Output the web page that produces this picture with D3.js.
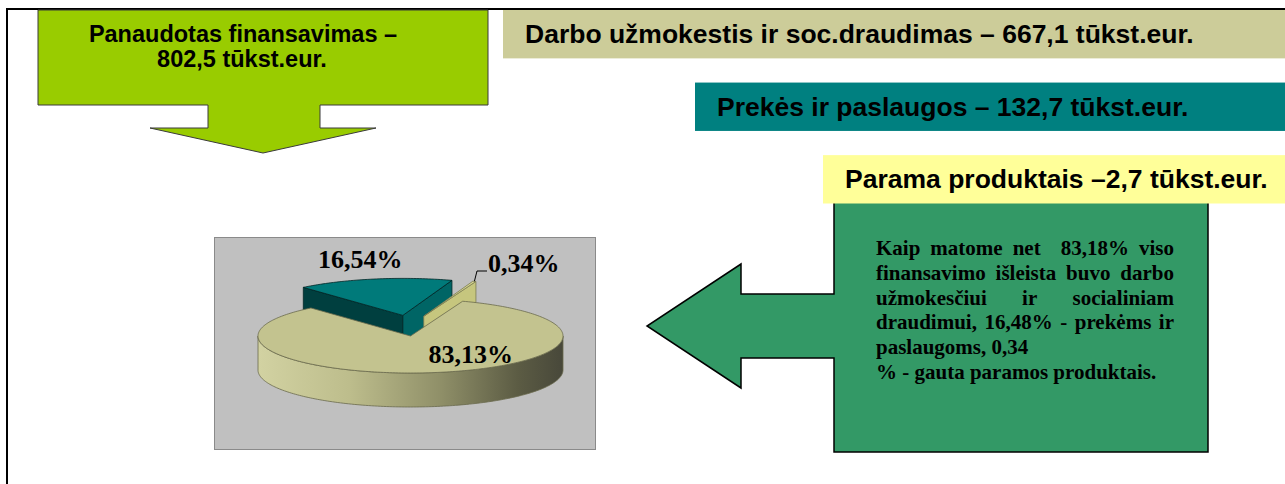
<!DOCTYPE html>
<meta charset="utf-8">
<style>
body { margin: 0; background: #fff; }
svg { display: block; }
.hdr { font-family: "Liberation Sans", Arial, sans-serif; font-weight: bold; fill: #000; }
.ser { font-family: "Liberation Serif", "Times New Roman", serif; font-weight: bold; fill: #000; }
</style>
<body>
<svg width="1285" height="484"></svg>
<script src="https://d3js.org/d3.v7.min.js"></script>
<script>

// data
var categories = ["Darbo užmokestis ir soc.draudimas", "Prekės ir paslaugos", "Parama produktais"];
var amounts = [667.1, 132.7, 2.7];          // tūkst.eur.
var separators = [" – ", " – ", " –"];
var shares = [83.13, 16.54, 0.34];          // % of total
var total = 802.5;
var totalTitle = "Panaudotas finansavimas –";
var unit = "tūkst.eur.";
var noteLines = [
  "Kaip matome net  83,18% viso",
  "finansavimo išleista buvo darbo",
  "užmokesčiui ir socialiniam",
  "draudimui, 16,48% - prekėms ir",
  "paslaugoms, 0,34",
  "% - gauta paramos produktais."
];
var noteJustified = [true, true, true, true, false, false];

var boxFill = ["#cccc99", "#008080", "#ffff99"];
var topFill = ["#c3c38f", "#007a7a", "#d8d890"];
var startFaceFill = ["#8f8f66", "#003f3f", "#b5b570"];
var endFaceFill = ["#8f8f66", "#006565", "#c6c67e"];
var edge = ["#6a6a4c", "#002626", "#7a7a50"];

var svg = d3.select("svg");
var loc = d3.formatLocale({decimal: ",", thousands: " ", grouping: [3], currency: ["", ""]});
var f1 = loc.format(".1f"), f2 = loc.format(".2f");

// outer frame
svg.append("path")
    .attr("d", "M7,484V9H1285")
    .attr("fill", "none")
    .attr("stroke", "#000")
    .attr("stroke-width", 2);

// green "total" arrow pointing down
var ga = d3.path();
ga.moveTo(38, 10); ga.lineTo(488, 10); ga.lineTo(488, 105); ga.lineTo(320, 105);
ga.lineTo(320, 128); ga.lineTo(376, 128); ga.lineTo(263, 153); ga.lineTo(150, 128);
ga.lineTo(208, 128); ga.lineTo(208, 105); ga.lineTo(38, 105); ga.closePath();
svg.append("path").attr("d", ga.toString())
    .attr("fill", "#99cc00").attr("stroke", "#3a3a3a").attr("stroke-width", 1);

svg.append("text").attr("class", "hdr")
    .attr("x", 243).attr("y", 42)
    .attr("text-anchor", "middle")
    .style("font-size", "23.5px")
    .text(totalTitle);
svg.append("text").attr("class", "hdr")
    .attr("x", 242).attr("y", 67)
    .attr("text-anchor", "middle")
    .style("font-size", "23.5px")
    .text(f1(total) + " " + unit);

// green note with arrow pointing left
var na = d3.path();
na.moveTo(834, 195); na.lineTo(1208, 195); na.lineTo(1208, 452); na.lineTo(834, 452);
na.lineTo(834, 358); na.lineTo(741, 358); na.lineTo(741, 388); na.lineTo(647, 326);
na.lineTo(741, 264); na.lineTo(741, 294); na.lineTo(834, 294); na.closePath();
svg.append("path").attr("d", na.toString())
    .attr("fill", "#339966").attr("stroke", "#000").attr("stroke-width", 1.5);

var noteG = svg.append("g");
var lineY = d3.scaleLinear().domain([0, 1]).range([255, 279.8]);
noteLines.forEach(function(line, i) {
  var t = noteG.append("text").attr("class", "ser")
      .attr("y", lineY(i)).style("font-size", "21px");
  if (!noteJustified[i]) { t.attr("x", 876).text(line); return; }
  var words = line.split(" ");
  var spans = words.map(function(w) { return t.append("tspan").text(w); });
  var widths = spans.map(function(s) { return s.node().getComputedTextLength(); });
  var gap = (1174 - 876 - d3.sum(widths)) / (words.length - 1);
  var x = 876;
  spans.forEach(function(s, k) { s.attr("x", x); x += widths[k] + gap; });
});

// category boxes
var boxX = d3.scaleOrdinal().domain(categories).range([503, 695, 823]);
var boxY = d3.scaleBand().domain(categories).range([10, 203.5]).paddingInner(1 / 3);

var boxes = svg.selectAll(".cat").data(categories).enter().append("g").attr("class", "cat");
boxes.append("rect")
    .attr("x", function(d) { return boxX(d); })
    .attr("y", function(d) { return boxY(d); })
    .attr("width", function(d) { return 1285 - boxX(d); })
    .attr("height", boxY.bandwidth())
    .attr("fill", function(d, i) { return boxFill[i]; });
boxes.append("text").attr("class", "hdr")
    .attr("x", function(d) { return boxX(d) + 22; })
    .attr("y", function(d) { return boxY(d) + boxY.bandwidth() / 2 + 9; })
    .style("font-size", "26.5px")
    .text(function(d, i) { return d + separators[i] + f1(amounts[i]) + " " + unit; });

// pie chart plot area
svg.append("rect")
    .attr("x", 214.5).attr("y", 237.5).attr("width", 381).attr("height", 212)
    .attr("fill", "#c0c0c0").attr("stroke", "#8a8a8a").attr("stroke-width", 1);

var cx = 410.5, cy = 336, rx = 152.5, ry = 37, depth = 34;
var a0 = 20 * Math.PI / 180;
var pie = d3.pie().sort(null).startAngle(a0).endAngle(a0 + 2 * Math.PI);
var arcs = pie(shares);
var explode = [0, 1, 1];

function offset(d, i) {
  var m = (d.startAngle + d.endAngle) / 2;
  return [Math.sin(m) * 40 * explode[i], -Math.cos(m) * 21 * explode[i]];
}
function pt(a, r, o, z) {
  return [cx + o[0] + r * rx * Math.sin(a), cy + o[1] - r * ry * Math.cos(a) + (z || 0)];
}
function arcPts(s, e, o, z) {
  var n = Math.max(2, Math.ceil(Math.abs(e - s) / 0.02));
  return d3.range(n + 1).map(function(k) { return pt(s + (e - s) * k / n, 1, o, z); });
}
var line = d3.line().curve(d3.curveLinearClosed);

var grad = svg.append("defs").append("linearGradient")
    .attr("id", "wall").attr("gradientUnits", "userSpaceOnUse")
    .attr("x1", cx - rx).attr("x2", cx + rx).attr("y1", 0).attr("y2", 0);
[[0, "#d2d2a2"], [0.3, "#bdbd8c"], [0.6, "#8f8f68"], [0.85, "#5c5c44"], [1, "#48483a"]]
  .forEach(function(s) { grad.append("stop").attr("offset", s[0]).attr("stop-color", s[1]); });

var pieG = svg.append("g");
var order = d3.range(arcs.length).sort(function(p, q) {
  var mp = (arcs[p].startAngle + arcs[p].endAngle) / 2, mq = (arcs[q].startAngle + arcs[q].endAngle) / 2;
  return Math.cos(mq) - Math.cos(mp);
});

order.forEach(function(i) {
  var d = arcs[i], o = offset(d, i);
  var s = d.startAngle, e = d.endAngle;
  var g = pieG.append("g");
  // front wall
  [0, 2 * Math.PI].forEach(function(k) {
    var w0 = Math.max(s, Math.PI / 2 + k), w1 = Math.min(e, 3 * Math.PI / 2 + k);
    if (w1 > w0) {
      g.append("path")
          .attr("d", line(arcPts(w0, w1, o, 0).concat(arcPts(w1, w0, o, depth))))
          .attr("fill", i === 0 ? "url(#wall)" : endFaceFill[i])
          .attr("stroke", edge[i]).attr("stroke-width", 0.8);
    }
  });
  // radial cut faces
  if (Math.sin(s) < 0) {
    g.append("path")
        .attr("d", line([pt(s, 1, o), pt(s, 0, o), pt(s, 0, o, depth), pt(s, 1, o, depth)]))
        .attr("fill", startFaceFill[i]).attr("stroke", edge[i]).attr("stroke-width", 0.8);
  }
  if (Math.sin(e) > 0) {
    g.append("path")
        .attr("d", line([pt(e, 1, o), pt(e, 0, o), pt(e, 0, o, depth), pt(e, 1, o, depth)]))
        .attr("fill", endFaceFill[i]).attr("stroke", edge[i]).attr("stroke-width", 0.8);
  }
  // top face
  g.append("path")
      .attr("d", line([pt(s, 0, o)].concat(arcPts(s, e, o, 0))))
      .attr("fill", topFill[i]).attr("stroke", edge[i]).attr("stroke-width", 0.8);
});

// labels
var labelPos = [[cx + 18, cy + 27], [cx - 92.5, cy - 68], [cx + 77.5, cy - 64]];
pieG.selectAll(".lbl").data(shares).enter().append("text")
    .attr("class", "ser lbl")
    .attr("x", function(d, i) { return labelPos[i][0]; })
    .attr("y", function(d, i) { return labelPos[i][1]; })
    .style("font-size", "26px")
    .text(function(d) { return f2(d) + "%"; });

// leader for the small slice
var small = arcs[2], so = offset(small, 2);
var sm = (small.startAngle + small.endAngle) / 2;
var p0 = pt(sm, 1, so);
pieG.append("path")
    .attr("d", d3.line()([p0, [labelPos[2][0] - 11, labelPos[2][1] - 1], [labelPos[2][0] - 1, labelPos[2][1] - 1]]))
    .attr("fill", "none").attr("stroke", "#000").attr("stroke-width", 1);

</script>
</body>
